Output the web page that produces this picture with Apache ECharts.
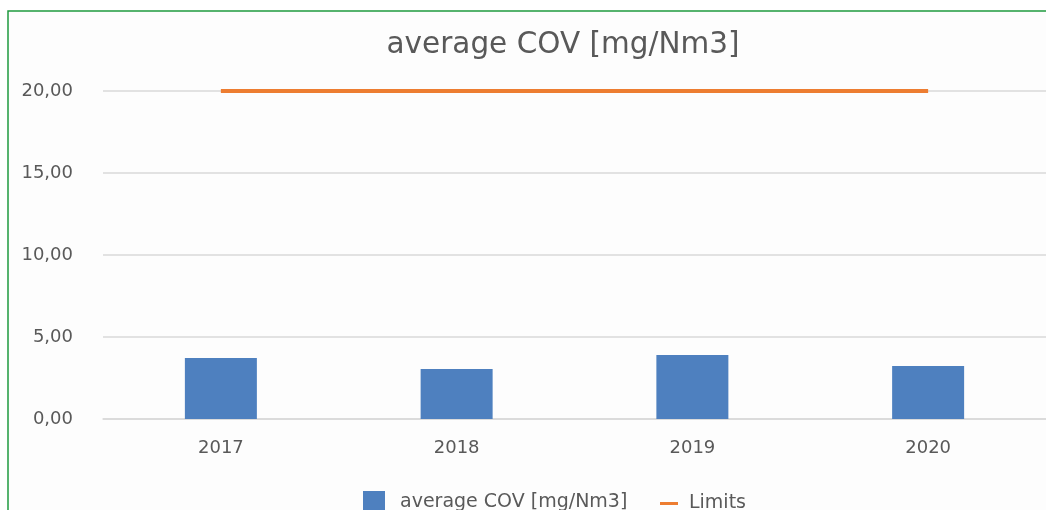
<!DOCTYPE html>
<html>
<head>
<meta charset="utf-8">
<script src="https://cdn.jsdelivr.net/npm/echarts@6/dist/echarts.min.js"></script>
<style>
  html, body { margin: 0; padding: 0; background: #ffffff; }
  #chart { width: 1046px; height: 510px; }
</style>
</head>
<body>
<div id="chart"></div>
<script>
const categories = ['2017', '2018', '2019', '2020'];
const averageCov = [3.72, 3.05, 3.90, 3.23];
const limits = [20, 20, 20, 20];
const yTicks = { min: 0, max: 20, interval: 5 };

const font = '"DejaVu Sans", "Liberation Sans", sans-serif';
const textGray = '#595959';

const chart = echarts.init(document.getElementById('chart'));
chart.setOption({
  backgroundColor: '#ffffff',
  animation: false,
  graphic: [{
    type: 'rect',
    shape: { x: 8, y: 11, width: 1060, height: 520 },
    style: { fill: '#fdfdfd', stroke: '#1f9a3f', lineWidth: 1.5 },
    z: -10,
    silent: true
  }],
  title: {
    text: 'average COV [mg/Nm3]',
    left: 558,
    textAlign: 'center',
    top: 25,
    textStyle: { fontFamily: font, fontSize: 29.5, fontWeight: 'normal', color: textGray }
  },
  legend: [{
    data: ['average COV [mg/Nm3]'],
    left: 358,
    top: 486,
    itemWidth: 22,
    itemHeight: 22,
    icon: 'rect',
    textStyle: { fontFamily: font, fontSize: 19, color: textGray, padding: [0, 0, 0, 10] }
  }, {
    data: ['Limits'],
    left: 655,
    top: 489,
    itemWidth: 18,
    itemHeight: 3,
    icon: 'rect',
    textStyle: { fontFamily: font, fontSize: 19, color: textGray, padding: [0, 0, 0, 6] }
  }],
  grid: { left: 103, right: 0, top: 91, bottom: 91, containLabel: false },
  xAxis: {
    type: 'category',
    data: categories,
    axisLine: { show: true, lineStyle: { color: '#d9d9d9', width: 1.5 } },
    axisTick: { show: false },
    axisLabel: { fontFamily: font, fontSize: 18, color: textGray, margin: 20 }
  },
  yAxis: {
    type: 'value',
    min: yTicks.min,
    max: yTicks.max,
    interval: yTicks.interval,
    axisLine: { show: false },
    axisTick: { show: false },
    splitLine: { lineStyle: { color: '#d9d9d9', width: 1.5 } },
    axisLabel: {
      fontFamily: font, fontSize: 18, color: textGray, margin: 30,
      formatter: v => v.toFixed(2).replace('.', ',')
    }
  },
  series: [{
    name: 'average COV [mg/Nm3]',
    type: 'bar',
    data: averageCov,
    barWidth: 72,
    itemStyle: { color: '#4e80bf' }
  }, {
    name: 'Limits',
    type: 'line',
    data: limits,
    symbol: 'none',
    lineStyle: { color: '#ed7d31', width: 4 },
    itemStyle: { color: '#ed7d31' },
    z: 5
  }]
});
</script>
</body>
</html>
